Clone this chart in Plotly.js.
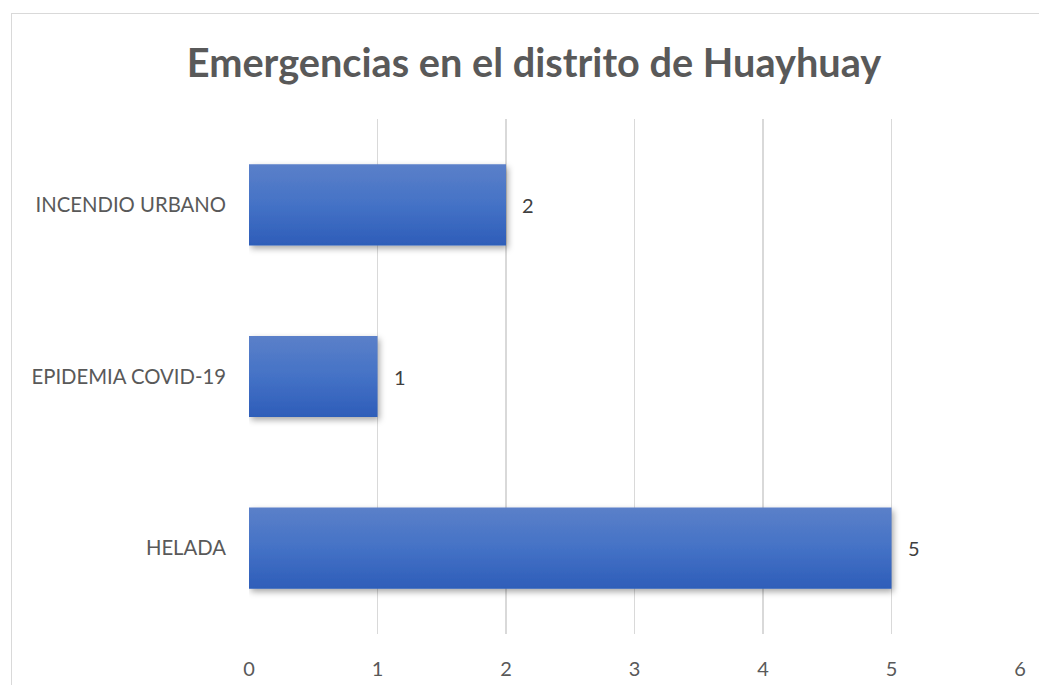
<!DOCTYPE html>
<html>
<head>
<meta charset="utf-8">
<script src="https://cdn.plot.ly/plotly-3.0.1.min.js"></script>
<style>
  html, body { margin: 0; padding: 0; background: #fff; overflow: hidden; width: 1039px; height: 685px; }
  #chart { position: absolute; left: 11px; top: 13px; width: 1100px; height: 700px; border: 1.5px solid #d9d9d9; box-sizing: border-box; }
</style>
</head>
<body>
<div id="chart"></div>
<script>
const categories = ['HELADA', 'EPIDEMIA COVID-19', 'INCENDIO URBANO'];
const values = [5, 1, 2];
const xTicks = [0, 1, 2, 3, 4, 5, 6];
const titleText = 'Emergencias en el distrito de Huayhuay';

const font = 'Lato, "Open Sans", sans-serif';
const grey = '#595959';

const trace = {
  type: 'bar',
  orientation: 'h',
  x: values,
  y: categories,
  marker: { color: '#4472c4', line: { width: 0 } },
  hoverinfo: 'x+y'
};

const annotations = categories.map((c, i) => ({
  x: values[i], y: c, xref: 'x', yref: 'y',
  text: String(values[i]), showarrow: false,
  xanchor: 'left', yanchor: 'middle', xshift: 14,
  font: { family: font, size: 20, color: '#404040' }
}));

const layout = {
  width: 1100, height: 700,
  margin: { l: 237, t: 105, r: 92, b: 80, pad: 0 },
  paper_bgcolor: 'rgba(0,0,0,0)',
  plot_bgcolor: '#fff',
  showlegend: false,
  bargap: 0.527,
  title: {
    text: '<b>' + titleText + '</b>',
    xref: 'container', x: 522 / 1100, xanchor: 'center',
    yref: 'container', y: 1 - 49 / 700, yanchor: 'middle',
    font: { family: font, size: 39.7, color: grey }
  },
  xaxis: {
    range: [0, 6], tickvals: xTicks, ticktext: xTicks.map(String),
    showgrid: true, gridcolor: '#d9d9d9', gridwidth: 1.5,
    zeroline: false, showline: false, ticks: '',
    ticklabelstandoff: 21,
    tickfont: { family: font, size: 20, color: grey }
  },
  yaxis: {
    type: 'category', categoryorder: 'array', categoryarray: categories,
    showgrid: false, zeroline: false, showline: false, ticks: '',
    ticklabelstandoff: 22,
    tickfont: { family: font, size: 20.3, color: grey }
  },
  annotations: annotations
};

Plotly.newPlot('chart', [trace], layout, { displayModeBar: false, staticPlot: true }).then(gd => {
  const ns = 'http://www.w3.org/2000/svg';
  const svg = gd.querySelector('svg.main-svg');
  let defs = svg.querySelector('defs');
  if (!defs) { defs = document.createElementNS(ns, 'defs'); svg.insertBefore(defs, svg.firstChild); }
  const grad = document.createElementNS(ns, 'linearGradient');
  grad.setAttribute('id', 'barGrad');
  grad.setAttribute('x1', '0'); grad.setAttribute('y1', '0');
  grad.setAttribute('x2', '0'); grad.setAttribute('y2', '1');
  [['0', '#5b80c9'], ['0.5', '#4472c6'], ['1', '#2e5db9']].forEach(([o, c]) => {
    const s = document.createElementNS(ns, 'stop');
    s.setAttribute('offset', o); s.setAttribute('stop-color', c);
    grad.appendChild(s);
  });
  defs.appendChild(grad);
  const filt = document.createElementNS(ns, 'filter');
  filt.setAttribute('id', 'barShadow');
  filt.setAttribute('x', '-10%'); filt.setAttribute('y', '-20%');
  filt.setAttribute('width', '130%'); filt.setAttribute('height', '150%');
  const ds = document.createElementNS(ns, 'feDropShadow');
  ds.setAttribute('dx', '2'); ds.setAttribute('dy', '3');
  ds.setAttribute('stdDeviation', '3'); ds.setAttribute('flood-color', '#000');
  ds.setAttribute('flood-opacity', '0.35');
  filt.appendChild(ds);
  defs.appendChild(filt);
  gd.querySelectorAll('.bars .point path').forEach(p => {
    p.style.fill = 'url(#barGrad)';
    p.setAttribute('filter', 'url(#barShadow)');
  });
});
</script>
</body>
</html>
